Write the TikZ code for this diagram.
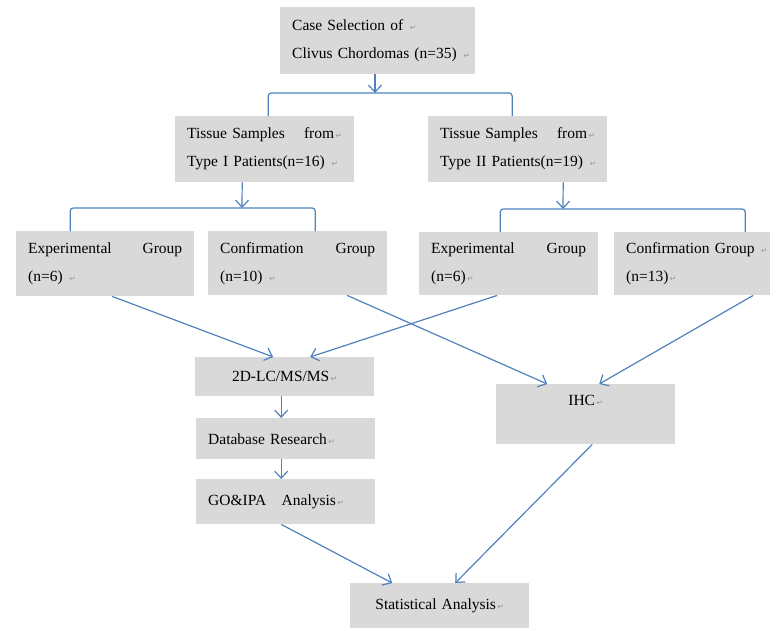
\documentclass[tikz,border=0pt]{standalone}
\usepackage{fontspec}
\setmainfont{Liberation Serif}
\newfontfamily\symfont{DejaVu Sans}
\usetikzlibrary{arrows.meta}
\definecolor{boxgray}{RGB}{217,217,217}
\definecolor{linkblue}{RGB}{79,129,189}
\newcommand{\pmark}{{\symfont\fontsize{8}{8}\selectfont\color{gray!80}\,↵}}
\begin{document}
\begin{tikzpicture}[x=1pt,y=-1pt,
  box/.style={fill=boxgray, anchor=north west, inner xsep=12pt, inner ysep=0pt,
    font=\fontsize{15.5}{28}\selectfont, align=left},
  link/.style={draw=linkblue, line width=1.2pt, -{Straight Barb[length=7pt,width=13pt]}},
  bracket/.style={draw=linkblue, line width=1.2pt, rounded corners=3pt}]
\useasboundingbox (0,0) rectangle (782,630);

% Case selection
\node[box, text width=171pt, minimum height=67pt] (top) at (280,7)
  {Case Selection of \pmark\\\mbox{Clivus Chordomas (n=35) \pmark}};
\coordinate (b1) at (375,93);

% Tissue samples of both types
\node[box, text width=155pt, minimum height=66pt] (tisL) at (175,116)
  {Tissue Samples\hspace{\fill}from\pmark\\\mbox{Type I Patients(n=16) \pmark}};
\node[box, text width=155pt, minimum height=66pt] (tisR) at (428,116)
  {Tissue Samples\hspace{\fill}from\pmark\\\mbox{Type II Patients(n=19) \pmark}};
\coordinate (b2) at (242,208);
\coordinate (b3) at (563,209);

% Groups
\node[box, text width=154pt, minimum height=65pt] (expL) at (16,231)
  {Experimental\hspace{\fill}Group\\(n=6) \pmark};
\node[box, text width=155pt, minimum height=64pt] (confL) at (208,231)
  {Confirmation\hspace{\fill}Group\\(n=10) \pmark};
\node[box, text width=155pt, minimum height=63pt] (expR) at (419,232)
  {Experimental\hspace{\fill}Group\\(n=6)\pmark};
\node[box, text width=132pt, minimum height=63pt] (confR) at (614,232)
  {\mbox{Confirmation Group \pmark}\\(n=13)\pmark};

% Proteomics branch
\node[box, text width=155pt, minimum height=39pt, align=center] (lcms) at (195,357)
  {2D-LC/MS/MS\pmark};
\node[box, text width=155pt, minimum height=41pt] (db) at (196,418)
  {Database Research\pmark};
\node[box, text width=155pt, minimum height=45pt] (go) at (196,479)
  {GO\&IPA\quad Analysis\pmark};

% IHC and statistics
\node[box, text width=155pt, minimum height=60pt, align=center] (ihc) at (496,384)
  {IHC\pmark\\ \mbox{}};
\node[box, text width=155pt, minimum height=45pt, align=center] (stat) at (350,583)
  {Statistical Analysis\pmark};

% Splits
\draw[link] (top.south -| b1) -- (b1);
\draw[bracket] ([xshift=3.5pt]tisL.north) |- (b1) -| ([xshift=-5.5pt]tisR.north);
\draw[link] ([xshift=-22.5pt]tisL.south) -- (b2);
\draw[bracket] ([xshift=-35pt]expL.north) |- (b2) -| ([xshift=17.5pt]confL.north);
\draw[link] ([xshift=45.5pt]tisR.south) -- (b3);
\draw[bracket] ([xshift=-8.5pt]expR.north) |- (b3) -| ([xshift=53pt]confR.north);

% Groups to methods
\draw[link] ([xshift=7pt]expL.south) -- ([xshift=-11.5pt]lcms.north);
\draw[link] ([xshift=-11.5pt]expR.south) -- ([xshift=25.5pt]lcms.north);
\draw[link] ([xshift=49.5pt]confL.south) -- ([xshift=-38.5pt]ihc.north);
\draw[link] ([xshift=61pt]confR.south) -- ([xshift=13.5pt]ihc.north);
\draw[link] ([xshift=-3.5pt]lcms.south) -- ([xshift=-4.5pt]db.north);
\draw[link] ([xshift=-4.5pt]db.south) -- ([xshift=-4.5pt]go.north);

% Into statistics
\draw[link] ([xshift=-4.5pt]go.south) -- ([xshift=-47.5pt]stat.north);
\draw[link] ([xshift=6.5pt]ihc.south) -- ([xshift=15.5pt]stat.north);
\end{tikzpicture}
\end{document}
